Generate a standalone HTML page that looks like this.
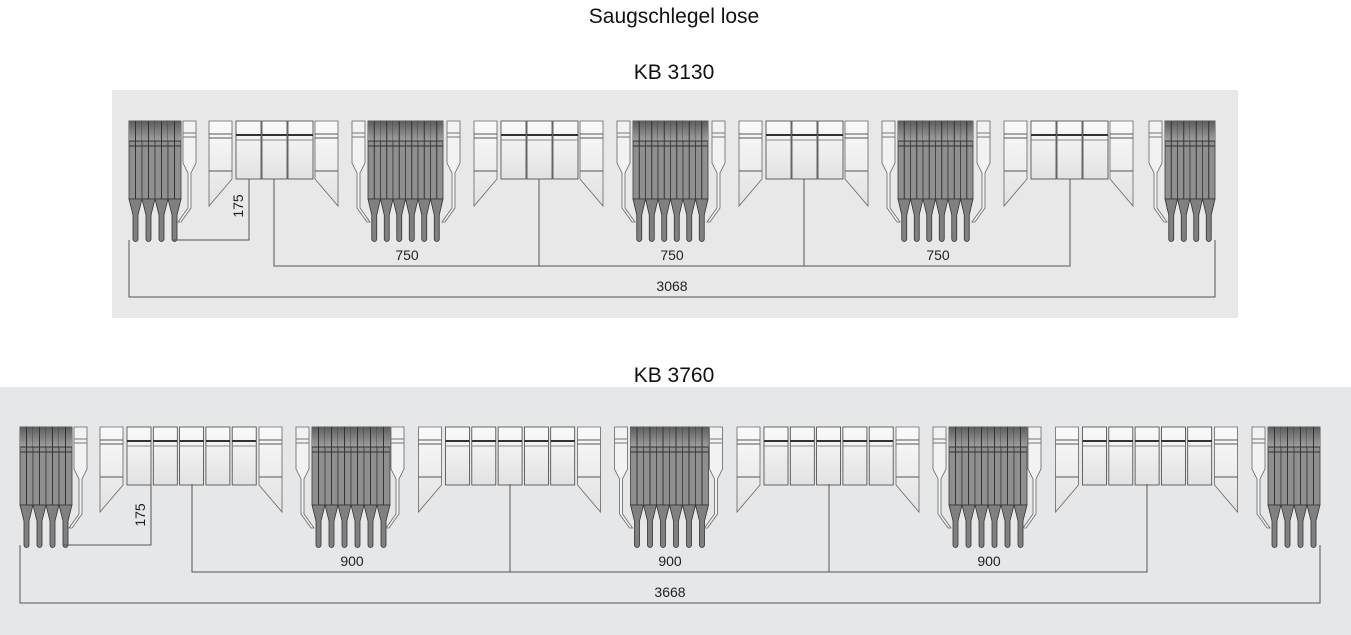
<!DOCTYPE html>
<html><head><meta charset="utf-8"><style>
body{margin:0;width:1351px;height:635px;background:#fff;overflow:hidden;font-family:"Liberation Sans",Arial,sans-serif}
svg{position:absolute;left:0;top:0}
</style></head><body>
<svg id="s" width="1351" height="635" viewBox="0 0 1351 635" xmlns="http://www.w3.org/2000/svg">
<defs>
<linearGradient id="dk" x1="0" y1="0" x2="0" y2="1"><stop offset="0" stop-color="#5e5e5e"/><stop offset="1" stop-color="#a0a0a0"/></linearGradient>
<linearGradient id="lt" x1="0" y1="0" x2="0" y2="1"><stop offset="0" stop-color="#fafafa"/><stop offset="1" stop-color="#e2e2e2"/></linearGradient>
</defs>
<rect x="112" y="90" width="1126" height="228" fill="#e8e8e8"/>
<rect x="0" y="387" width="1351" height="248" fill="#e6e7e9"/>
<text x="674" y="23" font-size="21" text-anchor="middle" fill="#111">Saugschlegel lose</text>
<text x="674" y="79" font-size="21" text-anchor="middle" fill="#111">KB 3130</text>
<text x="674" y="382" font-size="21" text-anchor="middle" fill="#111">KB 3760</text>
<g id="g"></g>
<g stroke="#555" stroke-width="1" fill="none">
<path d="M274 179V266H1070V179M539 179V266M804 179V266M129 240V297H1215V240M249 179V240H173"/>
<path d="M192 484V572H1147V484M510 484V572M829 484V572M20 545V603H1320V545M151 484V545H63"/>
</g>
<g font-size="14" fill="#222" text-anchor="middle">
<text x="407" y="260">750</text><text x="672" y="260">750</text><text x="938" y="260">750</text>
<text x="672" y="291">3068</text>
<text transform="translate(243,206) rotate(-90)">175</text>
<text x="352" y="566">900</text><text x="670" y="566">900</text><text x="989" y="566">900</text>
<text x="670" y="597">3668</text>
<text transform="translate(145,515) rotate(-90)">175</text>
</g>
</svg>
<script>
var out=[];
function dark(x,n,w,y){for(var i=0;i<n;i++){var a=x+i*w,c=a+w/2;
out.push('<rect x="'+a+'" y="'+y+'" width="'+w+'" height="78" fill="#8f8f8f" stroke="#3a3a3a" stroke-width="0.8"/>');
out.push('<rect x="'+a+'" y="'+y+'" width="'+w+'" height="20" fill="url(#dk)"/>');
out.push('<path d="M'+a+' '+(y+20)+'h'+w+'M'+a+' '+(y+25)+'h'+w+'M'+c+' '+y+'v78" stroke="#333" stroke-width="1"/>');
out.push('<path d="M'+a+' '+(y+78)+'L'+(c-2.5)+' '+(y+94)+'V'+(y+118)+'a2.5 2.5 0 0 0 5 0V'+(y+94)+'L'+(a+w)+' '+(y+78)+'Z" fill="#808080" stroke="#333" stroke-width="0.8"/>');}}
function lf(x,y,dir){
out.push('<path d="M'+x+' '+y+'h13v42l-5 10v'+(dir?35:35)+'l'+(dir*10)+' 14h-3l'+(-dir*10)+' -14v-35l-5-10Z" fill="#f2f2f2" stroke="#666" stroke-width="0.8"/>');
out.push('<path d="M'+x+' '+(y+12)+'h13M'+x+' '+(y+16)+'h13" stroke="#777" stroke-width="1"/>');}
function side(x,y,r){var p=r?('M'+x+' '+y+'h23v85L'+x+' '+(y+58)+'Z'):('M'+x+' '+y+'h23v58L'+x+' '+(y+85)+'Z');
out.push('<path d="'+p+'" fill="url(#lt)" stroke="#666" stroke-width="0.8"/>');
out.push('<path d="M'+x+' '+(y+13)+'h23M'+x+' '+(y+17)+'h23M'+x+' '+(y+50)+'h23" stroke="#555" stroke-width="1"/>');}
function rc(x,y,w){out.push('<rect x="'+x+'" y="'+y+'" width="'+w+'" height="58" fill="url(#lt)" stroke="#444" stroke-width="0.8"/>');
out.push('<path d="M'+x+' '+(y+14)+'h'+w+'" stroke="#333" stroke-width="2"/><path d="M'+x+' '+(y+19)+'h'+w+'" stroke="#888" stroke-width="1"/>');}
// top row
var y=121,P=265;
dark(129,4,13,y);lf(183,y,-1);
for(var m=0;m<4;m++){var b=209+m*P;side(b,y,0);for(var k=0;k<3;k++)rc(b+27+k*26,y,25);side(b+106,y,1);
 if(m<3){lf(b+143,y,1);dark(b+159,6,12.5,y);lf(b+238,y,-1);}}
lf(1149,y,1);dark(1165,4,12.5,y);
// bottom row
y=427;P=318.5;
dark(20,4,13,y);lf(74,y,-1);
for(var m=0;m<4;m++){var b=100+m*P;side(b,y,0);for(var k=0;k<5;k++)rc(b+27+k*26.3,y,24);side(b+159,y,1);
 if(m<3){lf(b+196,y,1);dark(b+212,6,13,y);lf(b+291,y,-1);}}
lf(1252,y,1);dark(1268,4,13,y);
document.getElementById('g').innerHTML=out.join('');
</script>
</body></html>
